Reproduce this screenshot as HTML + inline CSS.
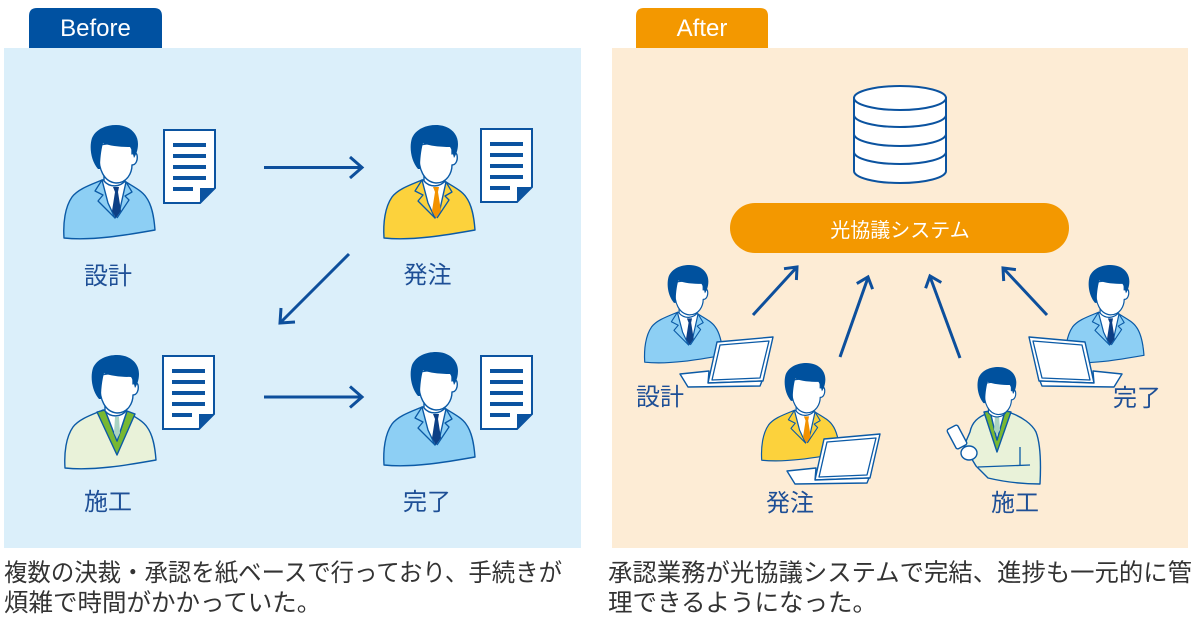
<!DOCTYPE html>
<html><head><meta charset="utf-8"><style>
html,body{margin:0;padding:0;background:#fff;}
svg{display:block;}
.o{stroke:#0b5aa6;stroke-width:1.4;stroke-linejoin:round}
.l{fill:none;stroke:#0b5aa6;stroke-width:1.3;stroke-linejoin:round}
.ar{fill:none;stroke:#0d4f9c;stroke-width:3;stroke-linecap:butt;stroke-linejoin:miter}
.lab{font-family:"Liberation Sans","Noto Sans CJK JP",sans-serif;font-size:24px;fill:#1e4f96;text-anchor:middle}
.cap{font-family:"Liberation Sans","Noto Sans CJK JP",sans-serif;font-size:24.5px;fill:#333}
.tab{font-family:"Liberation Sans",sans-serif;font-size:24px;fill:#fff;text-anchor:middle}
.doc rect,.doc path{}
</style></head><body>
<svg width="1200" height="623" viewBox="0 0 1200 623" xmlns="http://www.w3.org/2000/svg">
<defs>
<g id="docicon">
<path d="M0,0 H51 V58 L36,73 H0 Z" fill="#fff" stroke="#0b53a0" stroke-width="2"/>
<path d="M36,58 L51,58 L36,73 Z" fill="#0b53a0"/>
<rect x="9" y="13" width="33" height="4" fill="#0b53a0"/>
<rect x="9" y="24" width="33" height="4" fill="#0b53a0"/>
<rect x="9" y="35" width="33" height="4" fill="#0b53a0"/>
<rect x="9" y="46" width="33" height="4" fill="#0b53a0"/>
<rect x="9" y="57" width="20" height="4" fill="#0b53a0"/>
</g>
<g id="head">
<path class="o" d="M42,44 L42,56 C48,63 58,62 63,56 L63,44 Z" fill="#fff"/>
<path class="o" d="M37,28 C36,44 42,57 54,58 C65,58 70,48 70,40 C74,40 76,35 75,30 C74,27 72,27 70,29 L70,20 C60,18 46,18 38,20 Z" fill="#fff"/>
<path d="M36,44 C29,36 27,22 30,13 C34,4 44,0 54,0 C67,0 76,8 76,19 C76,25 74,30 72,33 C71,29 70,25 68,22 C59,22 47,21 41,18 C39,26 38,34 38,44 Z" fill="#00519e"/>
</g>
<g id="pblue">
<path class="o" d="M40,55 C28,60 16,64 10,72 C3,82 1,98 2,113 C30,116 65,110 93,105 C92,92 90,80 84,72 C80,66 72,62 64,57 Z" fill="#8dcff4"/>
<path class="o" d="M40,55 L64,57 L58,84 L53,93 L46,78 Z" fill="#fff"/>
<path d="M51,62 L57,62 L56,67 L59,86 L54,93 L50,86 L53,67 Z" fill="#0d3f85"/>
<path class="l" d="M40,55 L33,66 L41,70 L36,76 L53,93"/>
<path class="l" d="M64,57 L70,67 L63,71 L67,75 L55,93"/>
<use href="#head"/>
</g>
<g id="pyellow">
<path class="o" d="M40,55 C28,60 16,64 10,72 C3,82 1,98 2,113 C30,116 65,110 93,105 C92,92 90,80 84,72 C80,66 72,62 64,57 Z" fill="#fcd23c"/>
<path class="o" d="M40,55 L64,57 L58,84 L53,93 L46,78 Z" fill="#fff"/>
<path d="M51,62 L57,62 L56,67 L59,86 L54,93 L50,86 L53,67 Z" fill="#f39200"/>
<path class="l" d="M40,55 L33,66 L41,70 L36,76 L53,93"/>
<path class="l" d="M64,57 L70,67 L63,71 L67,75 L55,93"/>
<use href="#head"/>
</g>
<g id="pgreen">
<path class="o" d="M40,55 C28,60 16,64 10,72 C3,82 1,98 2,113 C30,116 65,110 93,105 C92,92 90,80 84,72 C80,66 72,62 64,57 Z" fill="#e9f2d9"/>
<path class="o" d="M34,57 L54,100 L72,59 L64,56 L54,86 L42,55 Z" fill="#78b833"/>
<path class="o" d="M42,55 L64,56 L54,86 Z" fill="#fff"/>
<path d="M52,62 L56,62 L57,78 L54,84 L51,78 Z" fill="#a9d3c2"/>
<use href="#head"/>
</g>
<g id="laptop">
<path class="o" d="M717,342 L773,337 L763,381 L708,383 Z" fill="#fff"/>
<path class="l" d="M720,345 L769,341 L760,378 L712,380 Z" stroke-width="0.8"/>
<path class="o" d="M680,374 L709,371 L708,383 L762,381 L760,386 L688,387 Z" fill="#fff"/>
</g>
</defs>

<!-- Before panel -->
<path d="M29,48 V16 Q29,8 37,8 H154 Q162,8 162,16 V48 Z" fill="#0051a1"/>
<text class="tab" x="95.5" y="36">Before</text>
<rect x="4" y="48" width="577" height="500" fill="#dbeffa"/>

<!-- After panel -->
<path d="M636,48 V16 Q636,8 644,8 H760 Q768,8 768,16 V48 Z" fill="#f39800"/>
<text class="tab" x="702" y="36">After</text>
<rect x="612" y="48" width="576" height="500" fill="#fdecd5"/>

<!-- Before persons & docs -->
<use href="#pblue" transform="translate(62,125)"/>
<use href="#docicon" transform="translate(164,130)"/>
<use href="#pyellow" transform="translate(382,125)"/>
<use href="#docicon" transform="translate(481,129)"/>
<use href="#pgreen" transform="translate(63,355)"/>
<use href="#docicon" transform="translate(163,356)"/>
<use href="#pblue" transform="translate(382,352)"/>
<use href="#docicon" transform="translate(481,356)"/>

<text class="lab" x="108" y="284">設計</text>
<text class="lab" x="427.5" y="283">発注</text>
<text class="lab" x="108" y="510">施工</text>
<text class="lab" x="427" y="510">完了</text>

<!-- Before arrows -->
<path class="ar" d="M264,167.5 H361"/>
<path class="ar" d="M350,157 L362,167.5 L350,178"/>
<path class="ar" d="M264,397 H361"/>
<path class="ar" d="M350,386.5 L362,397 L350,407.5"/>
<path class="ar" d="M349,254 L281,322"/>
<path class="ar" d="M295,322 L280,323 L281,308"/>

<!-- Database -->
<g fill="#fff" stroke="#0b53a0" stroke-width="2">
<path d="M854,98 V171 A46,12 0 0 0 946,171 V98 Z"/>
<ellipse cx="900" cy="98" rx="46" ry="12"/>
<path d="M854,115 A46,12 0 0 0 946,115" fill="none"/>
<path d="M854,134 A46,12 0 0 0 946,134" fill="none"/>
<path d="M854,152 A46,12 0 0 0 946,152" fill="none"/>
</g>

<!-- System pill -->
<rect x="730" y="203" width="339" height="50" rx="25" ry="25" fill="#f39800"/>
<text x="900" y="237" font-family="'Liberation Sans','Noto Sans CJK JP',sans-serif" font-size="20" fill="#fff" text-anchor="middle">光協議システム</text>

<!-- After arrows -->
<path class="ar" d="M753,315 L796,268"/>
<path class="ar" d="M784,268.7 L797,267 L796.4,280"/>
<path class="ar" d="M840,357 L867.5,279"/>
<path class="ar" d="M856.8,283.6 L868,277 L872.6,289.1"/>
<path class="ar" d="M960,358 L930.5,278"/>
<path class="ar" d="M925.6,288.2 L930,276 L941.3,282.5"/>
<path class="ar" d="M1047,315 L1004,269"/>
<path class="ar" d="M1003.7,281 L1003,268 L1015.9,269.6"/>

<!-- After persons -->
<use href="#pblue" transform="translate(643,265) scale(0.86)"/>
<use href="#laptop"/>
<use href="#pyellow" transform="translate(760,363) scale(0.86)"/>
<use href="#laptop" transform="translate(107,97)"/>
<use href="#pblue" transform="translate(1064,265) scale(0.86)"/>
<use href="#laptop" transform="translate(1802,0) scale(-1,1)"/>

<!-- After 施工 with phone -->
<path class="o" d="M988,413 C978,417 972,422 970,432 L964,446 L976,466 L988,478 C1005,482 1025,484 1040,484 C1041,465 1041,445 1036,432 C1032,424 1022,417 1011,413 Z" fill="#e9f2d9"/>
<path class="o" d="M984,412 L997,452 L1011,412 L1005,411 L997,440 L990,411 Z" fill="#78b833"/>
<path class="o" d="M990,411 L1005,411 L997,440 Z" fill="#fff"/>
<path d="M995,415 L999,415 L1000,430 L997,435 L994,430 Z" fill="#a9d3c2"/>
<use href="#head" transform="translate(954,367) scale(0.82)"/>
<path class="l" d="M978,467 L1030,465"/>
<path class="l" d="M1020,447 L1020,465"/>
<rect class="o" x="-6" y="-11" width="12" height="22" rx="2" fill="#fff" transform="translate(957,437) rotate(-28)"/>
<ellipse class="o" cx="969" cy="453" rx="8" ry="7" fill="#fff"/>

<text class="lab" x="660" y="405">設計</text>
<text class="lab" x="790" y="511">発注</text>
<text class="lab" x="1137" y="406">完了</text>
<text class="lab" x="1015" y="511">施工</text>

<!-- Captions -->
<text class="cap" x="4" y="581" textLength="558" lengthAdjust="spacingAndGlyphs">複数の決裁・承認を紙ベースで行っており、手続きが</text>
<text class="cap" x="4" y="611">煩雑で時間がかかっていた。</text>
<text class="cap" x="608" y="581" textLength="584" lengthAdjust="spacingAndGlyphs">承認業務が光協議システムで完結、進捗も一元的に管</text>
<text class="cap" x="608" y="611">理できるようになった。</text>
</svg>
</body></html>
